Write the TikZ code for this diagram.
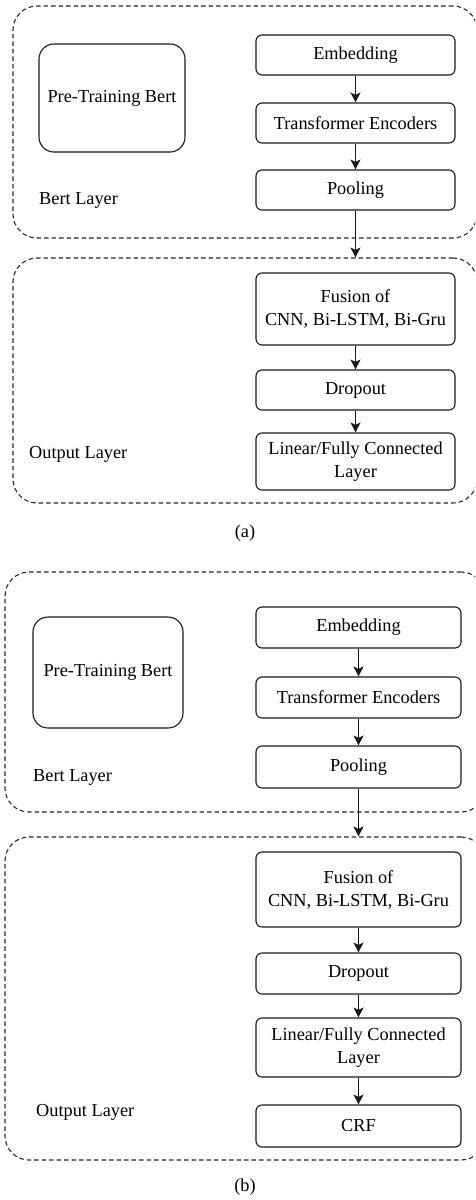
\documentclass[tikz,border=0pt]{standalone}
\usepackage{fontspec}
\setmainfont{Liberation Serif}
\usetikzlibrary{arrows.meta}
\begin{document}
\begin{tikzpicture}[x=1pt,y=-1pt,
  every node/.style={font=\fontsize{18.3}{23}\selectfont, text=black},
  proc/.style={draw=black!90, line width=1.1pt, rounded corners=6pt, align=center, inner sep=0pt},
  prebox/.style={draw=black!90, line width=1.1pt, rounded corners=15pt, align=center, inner sep=0pt},
  layer/.style={draw=black!85, dash pattern=on 4.5pt off 3pt, line width=1.1pt, rounded corners=24pt, inner sep=0pt},
  lbl/.style={inner sep=0pt, anchor=west},
  flow/.style={-{Stealth[length=10pt,width=10pt,inset=2.5pt]}, draw=black!90, line width=1.1pt}]
\useasboundingbox (0,0) rectangle (475,1200);
\clip (0,0) rectangle (475,1200);

% ---------- (a) ----------
\node[layer, minimum width=464, minimum height=232] (bertA) at (245,122) {};
\node[layer, minimum width=464, minimum height=245] (outA) at (245,380.5) {};

\node[prebox, minimum width=146, minimum height=108] (preA) at (112,98) {Pre-Training Bert};
\node[proc, minimum width=199, minimum height=40] (embA) at (355.5,55) {Embedding};
\node[proc, minimum width=199, minimum height=40] (trA) at (355.5,123) {Transformer Encoders};
\node[proc, minimum width=199, minimum height=40] (poolA) at (355.5,190) {Pooling};
\node[lbl] (bertlblA) at (39,200) {Bert Layer};

\node[proc, minimum width=199, minimum height=72] (fusA) at (355.5,309) {Fusion of\\CNN, Bi-LSTM, Bi-Gru};
\node[proc, minimum width=199, minimum height=40] (dropA) at (355.5,390) {Dropout};
\node[proc, minimum width=199, minimum height=57] (linA) at (355.5,461.5) {Linear/Fully Connected\\Layer};
\node[lbl] (outlblA) at (29,454) {Output Layer};

\draw[flow] (embA) -- (trA);
\draw[flow] (trA) -- (poolA);
\draw[flow] (poolA.south) -- (poolA.south |- outA.north);
\draw[flow] (fusA) -- (dropA);
\draw[flow] (dropA) -- (linA);

\node (capA) at (245,533) {(a)};

% ---------- (b) ----------
\node[layer, minimum width=480, minimum height=240] (bertB) at (245,692) {};
\node[layer, minimum width=480, minimum height=323] (outB) at (245,998.5) {};

\node[prebox, minimum width=150, minimum height=111] (preB) at (108,672.5) {Pre-Training Bert};
\node[proc, minimum width=205, minimum height=41] (embB) at (358.5,627.5) {Embedding};
\node[proc, minimum width=205, minimum height=41] (trB) at (358.5,697.5) {Transformer Encoders};
\node[proc, minimum width=205, minimum height=42] (poolB) at (358.5,767) {Pooling};
\node[lbl] (bertlblB) at (33,777) {Bert Layer};

\node[proc, minimum width=205, minimum height=75] (fusB) at (358.5,889.5) {Fusion of\\CNN, Bi-LSTM, Bi-Gru};
\node[proc, minimum width=205, minimum height=41] (dropB) at (358.5,973.5) {Dropout};
\node[proc, minimum width=205, minimum height=59] (linB) at (358.5,1047.5) {Linear/Fully Connected\\Layer};
\node[proc, minimum width=205, minimum height=42] (crfB) at (358.5,1126) {CRF};
\node[lbl] (outlblB) at (36,1112) {Output Layer};

\draw[flow] (embB) -- (trB);
\draw[flow] (trB) -- (poolB);
\draw[flow] (poolB.south) -- (poolB.south |- outB.north);
\draw[flow] (fusB) -- (dropB);
\draw[flow] (dropB) -- (linB);
\draw[flow] (linB) -- (crfB);

\node (capB) at (245,1187) {(b)};
\end{tikzpicture}
\end{document}
